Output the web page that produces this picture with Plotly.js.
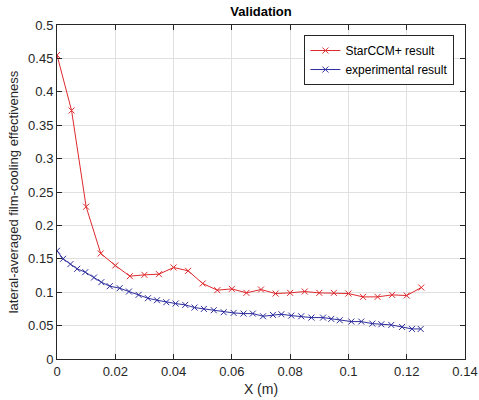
<!DOCTYPE html>
<html>
<head>
<meta charset="utf-8">
<script src="https://cdn.plot.ly/plotly-3.0.1.min.js"></script>
<style>html,body{margin:0;padding:0;background:#fff;}#chart{width:479px;height:400px;}</style>
</head>
<body>
<div id="chart"></div>
<script>
var starX = [0,0.005,0.01,0.015,0.02,0.025,0.03,0.035,0.04,0.045,0.05,0.055,0.06,0.065,0.07,0.075,0.08,0.085,0.09,0.095,0.1,0.105,0.11,0.115,0.12,0.125];
var starY = [0.455,0.372,0.228,0.158,0.140,0.124,0.126,0.127,0.137,0.132,0.113,0.103,0.105,0.099,0.104,0.098,0.099,0.101,0.099,0.099,0.098,0.093,0.093,0.096,0.095,0.107];
var expX = [0,0.0021,0.0046,0.0069,0.0097,0.0127,0.0152,0.0181,0.0215,0.0247,0.0280,0.0312,0.0343,0.0375,0.0407,0.0440,0.0472,0.0504,0.0538,0.0572,0.0606,0.0640,0.0672,0.0707,0.0741,0.0770,0.0804,0.0838,0.0873,0.0913,0.0941,0.0970,0.1010,0.1044,0.1082,0.1113,0.1147,0.1184,0.1218,0.1248];
var expY = [0.162,0.150,0.142,0.135,0.130,0.122,0.115,0.109,0.106,0.101,0.096,0.091,0.088,0.085,0.083,0.081,0.077,0.075,0.073,0.070,0.069,0.068,0.068,0.064,0.066,0.067,0.065,0.064,0.062,0.062,0.060,0.058,0.056,0.056,0.053,0.052,0.051,0.048,0.045,0.045];
var xTicks = [0,0.02,0.04,0.06,0.08,0.1,0.12,0.14];
var xTickText = ['0','0.02','0.04','0.06','0.08','0.1','0.12','0.14'];
var yTicks = [0,0.05,0.1,0.15,0.2,0.25,0.3,0.35,0.4,0.45,0.5];
var yTickText = ['0','0.05','0.1','0.15','0.2','0.25','0.3','0.35','0.4','0.45','0.5'];

var red = '#de2a2e', blue = '#2e2e9e';
var font = 'Liberation Sans, Arial, sans-serif';

var traces = [
  {x: starX, y: starY, name: 'StarCCM+ result', mode: 'lines+markers', type: 'scatter',
   line: {color: red, width: 1},
   marker: {symbol: 'x-thin', size: 6, color: red, line: {color: red, width: 1}}},
  {x: expX, y: expY, name: 'experimental result', mode: 'lines+markers', type: 'scatter',
   line: {color: blue, width: 1},
   marker: {symbol: 'x-thin', size: 6, color: blue, line: {color: blue, width: 1}}}
];

var axisCommon = {
  showline: true, linecolor: '#262626', linewidth: 1, mirror: 'ticks',
  ticks: 'inside', ticklen: 5, tickcolor: '#262626',
  showgrid: true, gridcolor: '#e0e0e0', gridwidth: 1,
  zeroline: false, tickfont: {family: font, size: 13, color: '#262626'}
};

var layout = {
  width: 479, height: 400,
  margin: {l: 57, r: 14, t: 25, b: 41},
  paper_bgcolor: '#fff', plot_bgcolor: '#fff',
  title: {text: '<b>Validation</b>', font: {family: font, size: 13, color: '#000'}, x: 0.545, xanchor: 'center', y: 0.972, yanchor: 'middle'},
  xaxis: Object.assign({}, axisCommon, {range: [0, 0.14], tickvals: xTicks, ticktext: xTickText,
    title: {text: 'X (m)', font: {family: font, size: 14, color: '#262626'}, standoff: 6}}),
  yaxis: Object.assign({}, axisCommon, {range: [0, 0.5], tickvals: yTicks, ticktext: yTickText,
    title: {text: 'lateral-averaged film-cooling effectiveness', font: {family: font, size: 13, color: '#262626'}, standoff: 6}}),
  showlegend: true,
  legend: {x: 0.974, xanchor: 'right', y: 0.97, yanchor: 'top', bgcolor: '#fff', bordercolor: '#262626', borderwidth: 1,
    font: {family: font, size: 12, color: '#000'}, tracegroupgap: 0}
};

Plotly.newPlot('chart', traces, layout, {displayModeBar: false, staticPlot: true});
</script>
</body>
</html>
